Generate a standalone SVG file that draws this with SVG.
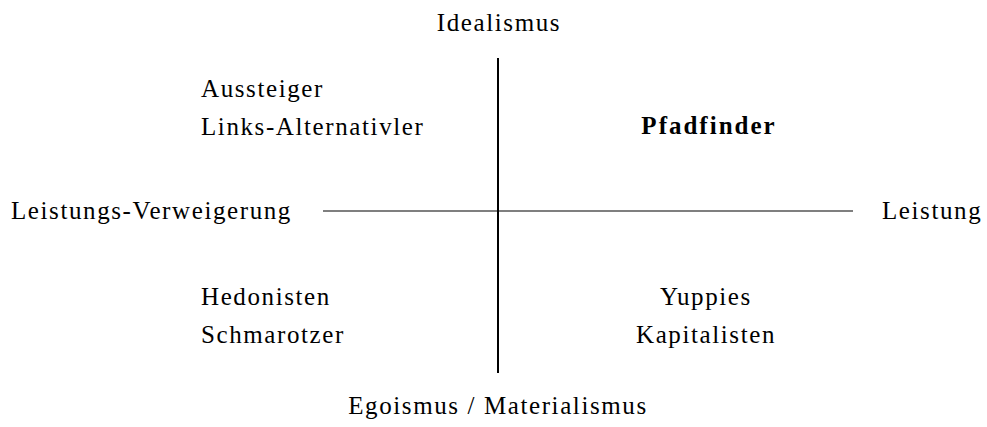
<svg xmlns="http://www.w3.org/2000/svg" width="987" height="427" viewBox="0 0 987 427">
<style>
.t{font-size:25px;letter-spacing:1.6px;fill:#000}
.b{font-weight:bold;letter-spacing:2px}
.m{text-anchor:middle}
</style>
<rect width="987" height="427" fill="#fff"/>
<g id="connectors" stroke="#000" fill="none">
<line x1="498" y1="58" x2="498" y2="373" stroke-width="2"/>
<line x1="323" y1="211" x2="853" y2="211" stroke-width="1.2"/>
</g>
<g class="t" font-family="Liberation Serif, DejaVu Serif, serif">
<g id="top"><text class="m" x="499" y="31">Idealismus</text></g>
<g id="bottom"><text class="m" x="498" y="414">Egoismus / Materialismus</text></g>
<g id="left"><text x="11" y="219">Leistungs-Verweigerung</text></g>
<g id="right"><text x="882" y="219">Leistung</text></g>
<g id="q1"><text x="201" y="97">Aussteiger</text><text x="201" y="135">Links-Alternativler</text></g>
<g id="q2"><text class="b m" x="709" y="134">Pfadfinder</text></g>
<g id="q3"><text x="201" y="305">Hedonisten</text><text x="201" y="343">Schmarotzer</text></g>
<g id="q4"><text class="m" x="706" y="305">Yuppies</text><text class="m" x="706" y="343">Kapitalisten</text></g>
</g>
</svg>
